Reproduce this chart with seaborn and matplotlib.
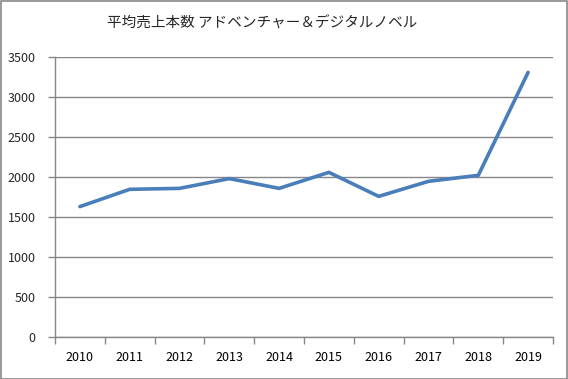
import numpy as np
import pandas as pd
import matplotlib
matplotlib.use("Agg")
import matplotlib.pyplot as plt
import seaborn as sns

# chart data
years = ["2010", "2011", "2012", "2013", "2014", "2015", "2016", "2017", "2018", "2019"]
avg_sales = [1630, 1846, 1858, 1980, 1858, 2058, 1758, 1946, 2021, 3308]
y_ticks = [0, 500, 1000, 1500, 2000, 2500, 3000, 3500]
title = "平均売上本数 アドベンチャー＆デジタルノベル"

sns.set_theme(style="white")
plt.rcParams["font.family"] = ["Noto Sans CJK JP", "DejaVu Sans"]

df = pd.DataFrame({"pos": np.arange(len(years)), "sales": avg_sales})

fig = plt.figure(figsize=(5.68, 3.79), dpi=100)
ax = fig.add_axes([55 / 568, 42 / 379, 498 / 568, 280 / 379])

sns.lineplot(data=df, x="pos", y="sales", ax=ax, color="#4A7EBB", linewidth=2.6)

grid_c = "#878787"
ax.set_ylim(0, 3500)
ax.set_yticks(y_ticks)
ax.set_xlim(-0.5, len(years) - 0.5)
ax.set_xticks(np.arange(len(years)))
ax.set_xticklabels(years)
ax.set_xticks(np.arange(len(years) + 1) - 0.5, minor=True)
ax.yaxis.grid(True, color=grid_c, linewidth=1)
ax.set_axisbelow(True)
ax.tick_params(axis="x", which="major", length=0, pad=10, labelsize=9, colors="black")
ax.tick_params(axis="x", which="minor", length=5, width=1, color=grid_c, direction="out")
ax.tick_params(axis="y", length=5, width=1, color=grid_c, direction="out", pad=9, labelsize=9)
ax.tick_params(bottom=True, left=True, which="both")
ax.set_xlabel("")
ax.set_ylabel("")
for s in ["top", "right"]:
    ax.spines[s].set_visible(False)
for s in ["left", "bottom"]:
    ax.spines[s].set_color(grid_c)
    ax.spines[s].set_linewidth(1)

fig.text(262 / 568, 1 - 24 / 379, title, ha="center", va="center", fontsize=10.5)

# outer chart border
fig.patches.append(plt.Rectangle((0.001, 0.001), 0.997, 0.997, transform=fig.transFigure,
                                 fill=False, edgecolor="#888888", linewidth=1.2))

fig.savefig("out.png", dpi=100)
